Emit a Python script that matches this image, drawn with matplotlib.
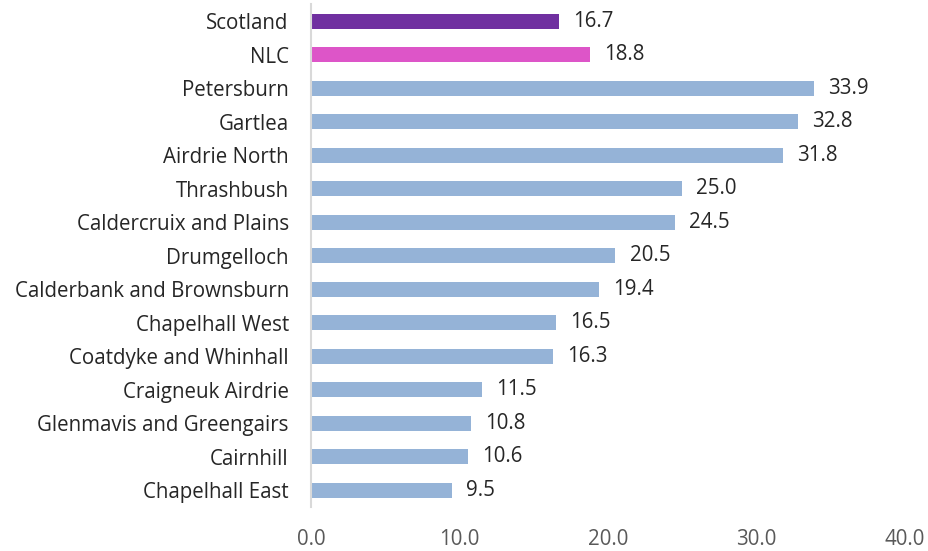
import numpy as np
import matplotlib.pyplot as plt

areas = ["Scotland", "NLC", "Petersburn", "Gartlea", "Airdrie North", "Thrashbush",
         "Caldercruix and Plains", "Drumgelloch", "Calderbank and Brownsburn",
         "Chapelhall West", "Coatdyke and Whinhall", "Craigneuk Airdrie",
         "Glenmavis and Greengairs", "Cairnhill", "Chapelhall East"]
values = [16.7, 18.8, 33.9, 32.8, 31.8, 25.0, 24.5, 20.5, 19.4, 16.5, 16.3, 11.5, 10.8, 10.6, 9.5]
colors = ["#7030A0", "#DD55C8"] + ["#95B3D7"] * 13
xticks = [0, 10, 20, 30, 40]

plt.rcParams['font.family'] = ['Open Sans', 'DejaVu Sans']

fig = plt.figure(figsize=(9.29, 5.51), dpi=100)
ax = fig.add_axes([0.3348, 0.08, 0.6394, 0.912])

y = np.arange(len(areas))
ax.barh(y, values, height=0.45, color=colors)
for yi, v in zip(y, values):
    ax.text(v + 0.95, yi, f"{v:.1f}", va='center', ha='left', fontsize=14.8, color='#262626')

ax.set_ylim(len(areas) - 0.5, -0.5)
ax.set_xlim(0, 40)
ax.set_yticks(y)
ax.set_yticklabels(areas, fontsize=14.8, color='#262626')
ax.set_xticks(xticks)
ax.set_xticklabels([f"{t:.1f}" for t in xticks], fontsize=14.8, color='#595959')
ax.tick_params(axis='both', length=0)
ax.tick_params(axis='x', pad=16)
ax.tick_params(axis='y', pad=16)
for s in ['top', 'right', 'bottom']:
    ax.spines[s].set_visible(False)
ax.spines['left'].set_color('#D9D9D9')
ax.spines['left'].set_linewidth(1.5)

fig.savefig("out.png", dpi=100)
